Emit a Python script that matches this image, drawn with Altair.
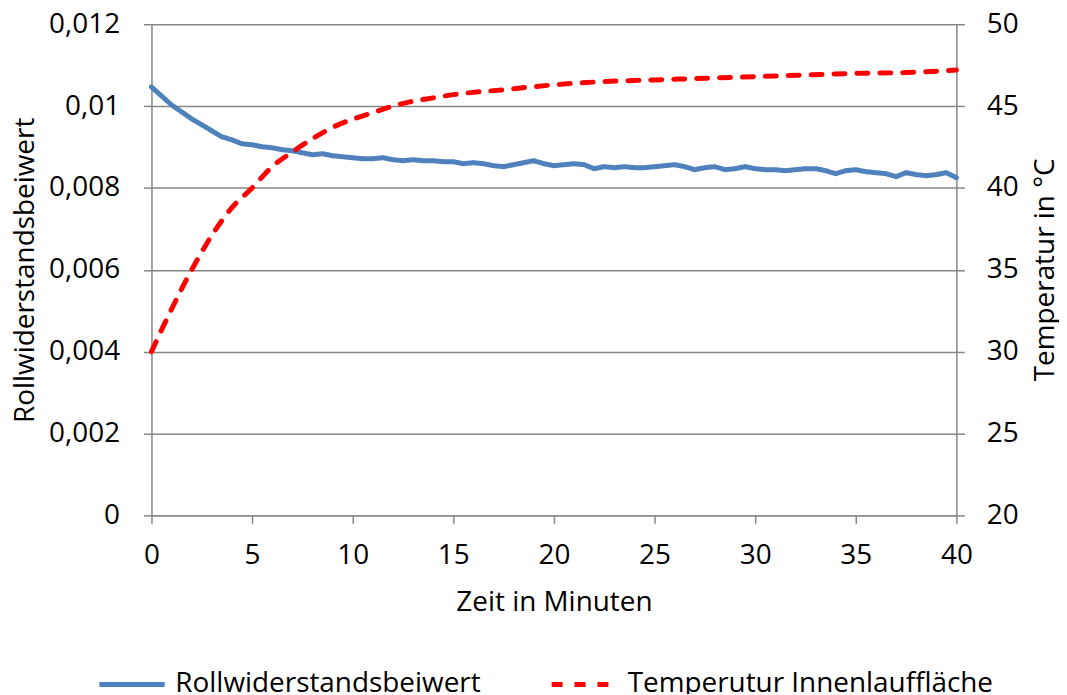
import altair as alt
import pandas as pd

# Zeit in Minuten (blue series sampled every 0.5 min)
zeit_blau = [i * 0.5 for i in range(81)]
rollwiderstand = [
    0.010467, 0.010248, 0.010028, 0.009858, 0.009688, 0.009542, 0.009396, 0.009250,
    0.009177, 0.009079, 0.009055, 0.009006, 0.008982, 0.008933, 0.008909, 0.008860,
    0.008811, 0.008836, 0.008787, 0.008763, 0.008738, 0.008714, 0.008714, 0.008738,
    0.008690, 0.008665, 0.008690, 0.008665, 0.008665, 0.008641, 0.008641, 0.008592,
    0.008617, 0.008592, 0.008544, 0.008519, 0.008568, 0.008617, 0.008665, 0.008592,
    0.008544, 0.008568, 0.008592, 0.008568, 0.008471, 0.008519, 0.008495, 0.008519,
    0.008495, 0.008495, 0.008519, 0.008544, 0.008568, 0.008519, 0.008446, 0.008495,
    0.008519, 0.008446, 0.008471, 0.008519, 0.008471, 0.008446, 0.008446, 0.008422,
    0.008446, 0.008471, 0.008471, 0.008422, 0.008349, 0.008422, 0.008446, 0.008398,
    0.008373, 0.008349, 0.008276, 0.008373, 0.008325, 0.008300, 0.008325, 0.008373,
    0.008252,
]

zeit_rot = [0, 1, 2, 3, 4, 5, 6, 7, 8, 9, 10, 11, 12, 13, 14, 15,
            17.5, 20, 22.5, 25, 27.5, 30, 32.5, 35, 37.5, 40]
temperatur = [30.0, 32.6, 35.0, 37.1, 38.8, 40.0, 41.3, 42.2, 43.0, 43.7, 44.2,
              44.6, 45.0, 45.3, 45.5, 45.7, 46.0, 46.3, 46.5, 46.6, 46.7, 46.8,
              46.9, 47.0, 47.05, 47.2]

serien = ["Rollwiderstandsbeiwert", "Temperutur Innenlauffläche"]
farben = ["#4F81BD", "#FF0000"]
striche = [[1, 0], [11, 12]]

x_ticks = [0, 5, 10, 15, 20, 25, 30, 35, 40]
y_left_ticks = [0, 0.002, 0.004, 0.006, 0.008, 0.01, 0.012]
y_right_ticks = [20, 25, 30, 35, 40, 45, 50]

df_blau = pd.DataFrame({"zeit": zeit_blau, "wert": rollwiderstand, "serie": serien[0]})
df_rot = pd.DataFrame({"zeit": zeit_rot, "wert": temperatur, "serie": serien[1]})

FONT = "Open Sans"
GRAY = "#868686"
FS = 28

x_enc = alt.X(
    "zeit:Q",
    scale=alt.Scale(domain=[0, 40], nice=False),
    axis=alt.Axis(
        values=x_ticks, title="Zeit in Minuten", grid=False, labelFlush=False,
        domainColor=GRAY, tickColor=GRAY, tickSize=8, domainWidth=1.5, tickWidth=1.5,
        labelPadding=18, titlePadding=19,
    ),
)

color_enc = alt.Color(
    "serie:N",
    scale=alt.Scale(domain=serien, range=farben),
    legend=alt.Legend(
        title=None, orient="none", direction="horizontal",
        legendX=-55, legendY=627,
        symbolType="stroke", symbolSize=4300, symbolStrokeWidth=5,
        labelFontSize=28, labelFont=FONT, labelColor="#000000", labelLimit=500,
        columnPadding=60, labelOffset=8, padding=0,
    ),
)
dash_enc = alt.StrokeDash("serie:N", scale=alt.Scale(domain=serien, range=striche),
                          legend=None)

blau = alt.Chart(df_blau).mark_line(strokeWidth=5, strokeJoin="round", strokeCap="round").encode(
    x=x_enc,
    y=alt.Y(
        "wert:Q",
        scale=alt.Scale(domain=[0, 0.012], nice=False),
        axis=alt.Axis(
            values=y_left_ticks, title="Rollwiderstandsbeiwert", orient="left",
            labelExpr="replace(format(datum.value, '~g'), '.', ',')",
            grid=True, gridColor=GRAY, gridWidth=1.5, labelFlush=False,
            domainColor=GRAY, tickColor=GRAY, tickSize=8, domainWidth=1.5, tickWidth=1.5,
            labelPadding=24, titlePadding=9,
        ),
    ),
    color=color_enc,
    strokeDash=dash_enc,
)

rot = alt.Chart(df_rot).mark_line(strokeWidth=5, strokeCap="round", interpolate="monotone").encode(
    x=x_enc,
    y=alt.Y(
        "wert:Q",
        scale=alt.Scale(domain=[20, 50], nice=False),
        axis=alt.Axis(
            values=y_right_ticks, title="Temperatur in °C", orient="right",
            grid=False, titleAngle=270, titleX=89, titleY=246,
            titleBaseline="middle", titleAlign="center", labelFlush=False,
            domainColor=GRAY, tickColor=GRAY, tickSize=8, domainWidth=1.5, tickWidth=1.5,
            labelPadding=22,
        ),
    ),
    color=color_enc,
    strokeDash=dash_enc,
)

chart = (
    alt.layer(blau, rot)
    .resolve_scale(y="independent")
    .properties(
        width=808, height=493, autosize="none",
        padding={"left": 144, "top": 15, "right": 103, "bottom": 178},
    )
    .configure_view(stroke=None)
    .configure_axis(
        labelFont=FONT, labelFontSize=FS, labelColor="#000000",
        titleFont=FONT, titleFontSize=FS, titleColor="#000000", titleFontWeight="normal",
    )
    .configure_legend(labelFont=FONT)
)

chart.save("out.html", embed_options={"renderer": "svg", "actions": False})
